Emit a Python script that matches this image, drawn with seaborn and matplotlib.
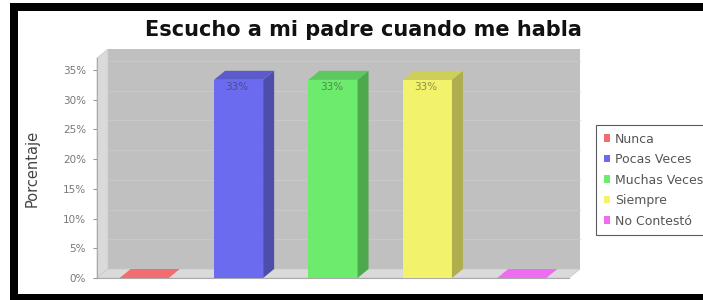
import numpy as np
import pandas as pd
import matplotlib
matplotlib.use("Agg")
import matplotlib.pyplot as plt
import seaborn as sns
from matplotlib.patches import Rectangle, Polygon, Patch
from matplotlib.colors import to_rgb

# data
categories = ["Nunca", "Pocas Veces", "Muchas Veces", "Siempre", "No Contestó"]
porcentajes = [0.0, 33.33, 33.33, 33.33, 0.0]
etiquetas = ["", "33%", "33%", "33%", ""]
colores = ["#F26D6D", "#6B6BEF", "#6DEB6D", "#F2F26B", "#EF6BEF"]
yticks = [0, 5, 10, 15, 20, 25, 30, 35]

sns.set_style("white")
plt.rcParams["font.family"] = ["DejaVu Sans"]

W, H = 703, 300
fig = plt.figure(figsize=(W / 100, H / 100), dpi=100, facecolor="white")

# front plane of the 3D plot
left, right, top, bottom = 97, 569, 58, 278
ax = fig.add_axes([left / W, 1 - bottom / H, (right - left) / W, (bottom - top) / H])
ax.set_facecolor("none")

df = pd.DataFrame({"cat": categories, "val": porcentajes})
sns.barplot(data=df, x="cat", y="val", hue="cat", palette=colores, width=0.52,
            legend=False, ax=ax, saturation=1, zorder=3, linewidth=0)
bars = list(ax.patches)

ymax = 37
ax.set_xlim(-0.5, len(categories) - 0.5)
ax.set_ylim(0, ymax)

# depth offset (pixels -> data units)
dx = 11 * (len(categories)) / (right - left)
dy = 9 * ymax / (bottom - top)
x0, x1 = -0.5, len(categories) - 0.5

# back wall, left wall, floor
ax.add_patch(Rectangle((x0 + dx, dy), x1 - x0, ymax, facecolor="#c0c0c0",
                       edgecolor="none", zorder=0.1, clip_on=False))
ax.add_patch(Polygon([(x0, 0), (x0, ymax), (x0 + dx, ymax + dy), (x0 + dx, dy)],
                     facecolor="#dadada", edgecolor="#c8c8c8", lw=0.5, zorder=0.2, clip_on=False))
ax.add_patch(Polygon([(x0, 0), (x1, 0), (x1 + dx, dy), (x0 + dx, dy)],
                     facecolor="#dadada", edgecolor="#c8c8c8", lw=0.5, zorder=0.2, clip_on=False))
for t in yticks[1:]:
    ax.plot([x0 + dx, x1 + dx], [t + dy, t + dy], color="#cacaca", lw=0.6,
            zorder=0.15, clip_on=False)


def shade(c, f):
    r, g, b = to_rgb(c)
    return (r * f, g * f, b * f)


# side and top faces for each bar
for p, c, lab in zip(bars, colores, etiquetas):
    bx, bw, bh = p.get_x(), p.get_width(), p.get_height()
    ax.add_patch(Polygon([(bx + bw, 0), (bx + bw, bh), (bx + bw + dx, bh + dy), (bx + bw + dx, dy)],
                         facecolor=shade(c, 0.72), edgecolor="none", zorder=3, clip_on=False))
    ax.add_patch(Polygon([(bx, bh), (bx + bw, bh), (bx + bw + dx, bh + dy), (bx + dx, bh + dy)],
                         facecolor=shade(c, 0.85 if bh > 0 else 1.0), edgecolor="none",
                         zorder=3, clip_on=False))
    if lab:
        ax.text(bx + 0.12, bh - 0.3, lab, fontsize=7.5, color="#2a2a2a", alpha=0.5,
                ha="left", va="top", zorder=4)

ax.set_yticks(yticks)
ax.set_yticklabels([f"{t}%" for t in yticks], fontsize=7.5, color="#777777")
ax.tick_params(axis="y", length=3, color="#999999", pad=5, left=True)
ax.set_xticks([])
ax.set_xlabel("")
ax.set_ylabel("Porcentaje", fontsize=10.5, color="#444444")
ax.yaxis.set_label_coords(-0.121, 0.5)
for s in ["top", "right"]:
    ax.spines[s].set_visible(False)
ax.spines["left"].set_color("#aaaaaa")
ax.spines["bottom"].set_color("#aaaaaa")
ax.spines["left"].set_linewidth(0.8)
ax.spines["bottom"].set_linewidth(0.8)

fig.text(363 / W, 1 - 30 / H, "Escucho a mi padre cuando me habla", fontsize=15,
         fontweight="bold", color="#111111", ha="center", va="center")

handles = [Patch(facecolor=c, edgecolor="none") for c in colores]
leg = fig.legend(handles, categories, loc="upper left",
                 bbox_to_anchor=(596 / W, 1 - 125 / H), fontsize=9,
                 handlelength=0.55, handleheight=0.55, handletextpad=0.35,
                 labelspacing=0.6, borderpad=0.6, borderaxespad=0,
                 fancybox=False, frameon=True)
leg.get_frame().set_edgecolor("#333333")
leg.get_frame().set_linewidth(0.8)
for t in leg.get_texts():
    t.set_color("#555555")

# black frame around the image
fig.patches.append(Rectangle((10 / W, 0), 8 / W, 1 - 3 / H, transform=fig.transFigure,
                             facecolor="black", edgecolor="none", zorder=10))
fig.patches.append(Rectangle((10 / W, 1 - 11 / H), 1, 8 / H, transform=fig.transFigure,
                             facecolor="black", edgecolor="none", zorder=10))
fig.patches.append(Rectangle((10 / W, 0), 1, 6 / H, transform=fig.transFigure,
                             facecolor="black", edgecolor="none", zorder=10))

fig.savefig("out.png", dpi=100)
